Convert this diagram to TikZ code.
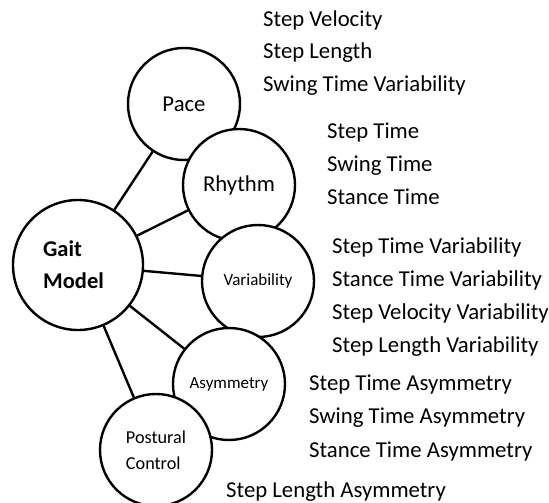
\documentclass[tikz,border=0pt]{standalone}
\usepackage{fontspec}
\setmainfont{Carlito}
\begin{document}
\begin{tikzpicture}[x=1pt,y=-1pt,
  bubble/.style={circle,draw=black,fill=white,line width=2.4pt,minimum size=112pt,inner sep=0pt},
  bigbubble/.style={bubble,minimum size=130pt},
  link/.style={draw=black,line width=2.4pt},
  item/.style={anchor=base west,inner sep=0pt,font=\fontsize{22.75}{26}\selectfont},
  lab/.style={font=\fontsize{22.7}{26}\selectfont},
  smalllab/.style={font=\fontsize{17}{20}\selectfont}]
\useasboundingbox[fill=white] (0,0) rectangle (549,503);
\node[bigbubble,font=\fontsize{22.5}{32}\selectfont\bfseries,align=left] (gait) at (78,265) {Gait\\Model\kern9pt};
\node[bubble,lab] (pace) at (184,104) {Pace};
\node[bubble,lab] (rhythm) at (239,185) {Rhythm};
\node[bubble,smalllab] (var) at (258,281) {Variability};
\node[bubble,smalllab] (asym) at (229,384) {Asymmetry};
\node[bubble,align=left,font=\fontsize{18.2}{26}\selectfont] (post) at (156,450) {Postural\\Control};
\draw[link] (gait) -- (pace);
\draw[link] (gait) -- (rhythm);
\draw[link] (gait) -- (var);
\draw[link] (gait) -- (asym);
\draw[link] (gait) -- (post);
\node[item] (t1) at (263,27) {Step Velocity};
\node[item] (t2) at (263,59) {Step Length};
\node[item] (t3) at (263,92) {Swing Time Variability};
\node[item] (t4) at (327,138) {Step Time};
\node[item] (t5) at (327,171) {Swing Time};
\node[item] (t6) at (327,204) {Stance Time};
\node[item] (t7) at (332,253) {Step Time Variability};
\node[item] (t8) at (332,286) {Stance Time Variability};
\node[item] (t9) at (332,319) {Step Velocity Variability};
\node[item] (t10) at (332,352) {Step Length Variability};
\node[item] (t11) at (309,390) {Step Time Asymmetry};
\node[item] (t12) at (309,423) {Swing Time Asymmetry};
\node[item] (t13) at (309,457) {Stance Time Asymmetry};
\node[item] (t14) at (226,497) {Step Length Asymmetry};
\end{tikzpicture}
\end{document}
